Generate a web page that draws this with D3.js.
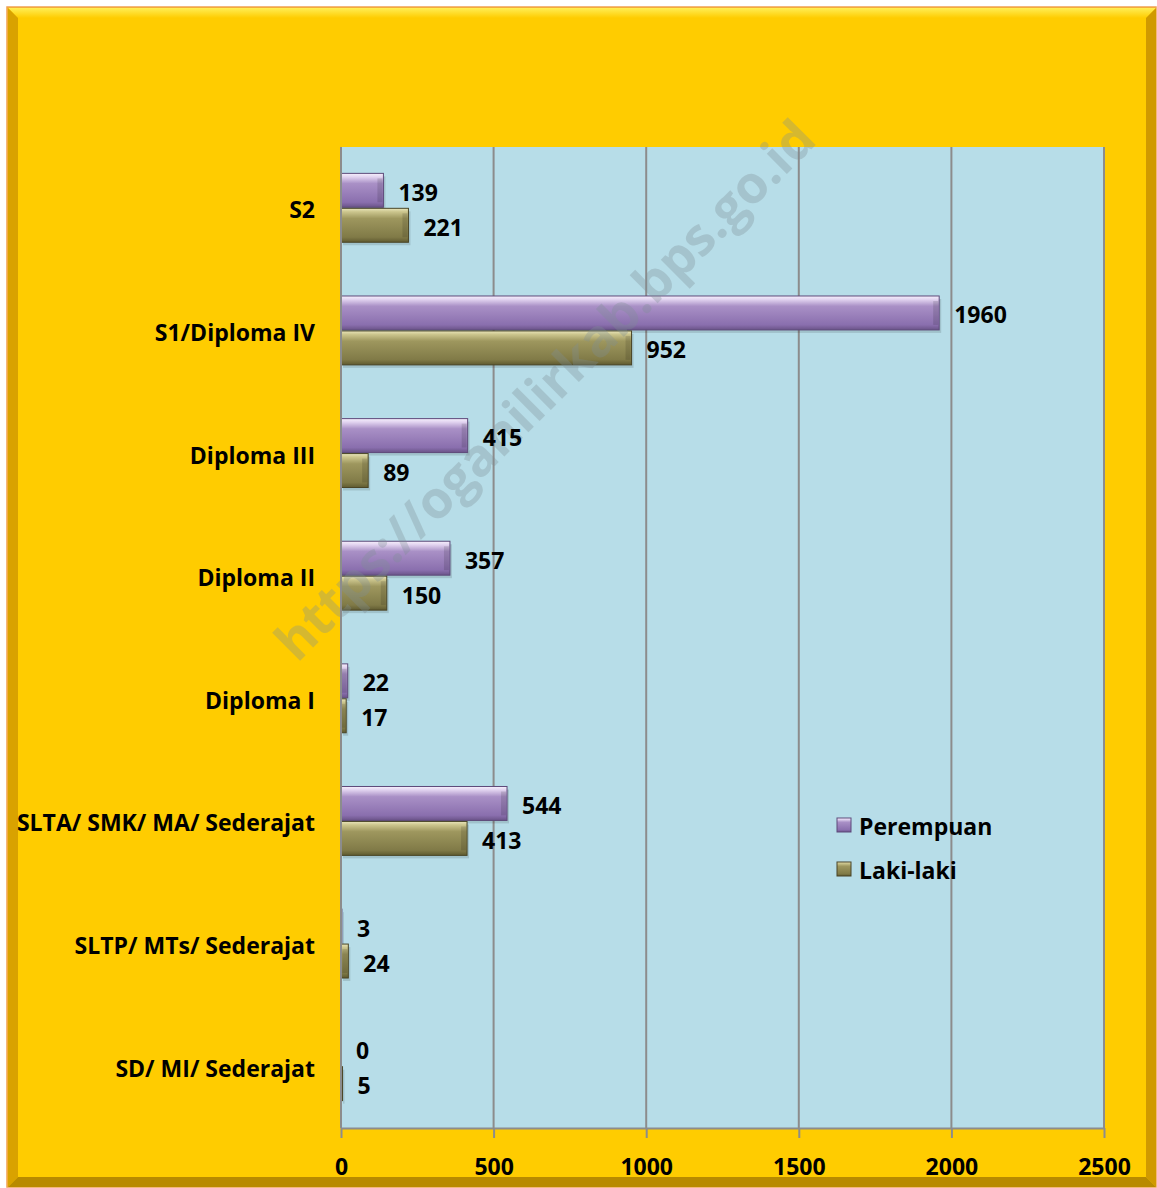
<!DOCTYPE html>
<html><head><meta charset="utf-8">
<script src="https://cdn.jsdelivr.net/npm/d3@7"></script>
<style>body{margin:0;background:#fff}svg{display:block}</style>
</head><body>
<script>
const categories = ["S2","S1/Diploma IV","Diploma III","Diploma II","Diploma I","SLTA/ SMK/ MA/ Sederajat","SLTP/ MTs/ Sederajat","SD/ MI/ Sederajat"];
const perempuan = [139,1960,415,357,22,544,3,0];
const lakilaki = [221,952,89,150,17,413,24,5];
const seriesNames = ["Perempuan","Laki-laki"];
const xTicks = [0,500,1000,1500,2000,2500];

const FONT="'Open Sans', sans-serif";
const FS=23;
const W=1157,H=1188;
const svg=d3.select("body").append("svg").attr("width",W).attr("height",H);
const defs=svg.append("defs");
function grad(id,stops){const g=defs.append("linearGradient").attr("id",id).attr("x1",0).attr("y1",0).attr("x2",0).attr("y2",1);stops.forEach(s=>g.append("stop").attr("offset",s[0]).attr("stop-color",s[1]));}
grad("gP",[[0,"#f6f0fc"],[0.1,"#e2d4f0"],[0.3,"#a990c6"],[0.85,"#8a6fae"],[1,"#6a5388"]]);
grad("gL",[[0,"#eae6bc"],[0.1,"#ccc68e"],[0.3,"#9e975e"],[0.85,"#807a47"],[1,"#5f5a30"]]);
grad("frameTop",[[0,"#ffee55"],[1,"#ffcc00"]]);

// frame
svg.append("rect").attr("x",7).attr("y",7).attr("width",1149).attr("height",1180).attr("fill","#ffcc00").attr("stroke","#f0a050").attr("stroke-width",1.5);
svg.append("polygon").attr("points","8,8 1156,8 1146,18 18,18").attr("fill","url(#frameTop)");
svg.append("polygon").attr("points","8,8 18,18 18,1177 8,1187").attr("fill","#d9a200");
svg.append("polygon").attr("points","1156,8 1156,1187 1146,1177 1146,18").attr("fill","#d09a00");
svg.append("polygon").attr("points","8,1187 1156,1187 1146,1177 18,1177").attr("fill","#b88a00");
svg.append("rect").attr("x",18).attr("y",18).attr("width",1128).attr("height",1159).attr("fill","#ffcc00");

const m={l:341,r:1104,t:147,b:1128};
const x=d3.scaleLinear().domain([0,2500]).range([m.l,m.r]);
const y=d3.scaleBand().domain(categories).range([m.t,m.b]).paddingInner(0.43).paddingOuter(0.215);
const ys=d3.scaleBand().domain(seriesNames).range([0,y.bandwidth()]);

svg.append("rect").attr("x",m.l).attr("y",m.t).attr("width",m.r-m.l).attr("height",m.b-m.t).attr("fill","#b7dde8");

// gridlines
svg.append("g").selectAll("line").data(xTicks.slice(1)).join("line")
 .attr("x1",d=>x(d)).attr("x2",d=>x(d)).attr("y1",m.t).attr("y2",m.b).attr("stroke","#8c8c8c").attr("stroke-width",2);

// bars
const data=[];
categories.forEach((c,i)=>{data.push({c,s:"Perempuan",v:perempuan[i]});data.push({c,s:"Laki-laki",v:lakilaki[i]});});
const bars=svg.append("g");
bars.selectAll("rect.shadow").data(data).join("rect").attr("x",x(0)+2).attr("y",d=>y(d.c)+ys(d.s)+3)
 .attr("width",d=>Math.max(0,x(d.v)-x(0))).attr("height",ys.bandwidth()-1).attr("fill","#000").attr("opacity",0.12);
bars.selectAll("rect.bar").data(data).join("rect").attr("x",x(0)).attr("y",d=>y(d.c)+ys(d.s))
 .attr("width",d=>x(d.v)-x(0)).attr("height",ys.bandwidth()-1)
 .attr("fill",d=>d.s==="Perempuan"?"url(#gP)":"url(#gL)")
 .attr("stroke",d=>d.s==="Perempuan"?"#5e4a7a":"#4a4526").attr("stroke-width",d=>d.v>0?1:0);
bars.selectAll("rect.edge").data(data.filter(d=>d.v>8)).join("rect")
 .attr("x",d=>x(d.v)-6).attr("y",d=>y(d.c)+ys(d.s)+5).attr("width",5).attr("height",ys.bandwidth()-11)
 .attr("fill","#000").attr("opacity",0.12);

// watermark (on top of bars)
svg.append("text").attr("transform","translate(548,393) rotate(-45)").attr("text-anchor","middle").attr("dominant-baseline","middle")
 .attr("font-family",FONT).attr("font-weight","bold").attr("font-size",52).attr("fill","#7f8f95").attr("opacity",0.32).text("https://oganilirkab.bps.go.id");

// value labels
svg.append("g").selectAll("text").data(data).join("text")
 .attr("x",d=>x(d.v)+15).attr("y",d=>y(d.c)+ys(d.s)+ys.bandwidth()/2+1).attr("dominant-baseline","central")
 .attr("font-family",FONT).attr("font-weight","bold").attr("font-size",FS).attr("fill","#000").text(d=>d.v);

// y axis line and labels
svg.append("line").attr("x1",m.l).attr("x2",m.l).attr("y1",m.t).attr("y2",m.b).attr("stroke","#8c8c8c").attr("stroke-width",2);
svg.append("g").selectAll("text").data(categories).join("text")
 .attr("x",315).attr("y",d=>y(d)+y.bandwidth()/2+1).attr("text-anchor","end").attr("dominant-baseline","central")
 .attr("font-family",FONT).attr("font-weight","bold").attr("font-size",FS).attr("fill","#000").text(d=>d);

// x axis
const xa=svg.append("g").attr("transform",`translate(0,${m.b})`).call(d3.axisBottom(x).tickValues(xTicks).tickFormat(d3.format("d")).tickSize(10).tickPadding(21).tickSizeOuter(0));
xa.select(".domain").attr("stroke","#8c8c8c").attr("stroke-width",2);
xa.selectAll(".tick line").attr("stroke","#8c8c8c").attr("stroke-width",2);
xa.selectAll("text").attr("font-family",FONT).attr("font-weight","bold").attr("font-size",FS).attr("fill","#000");

// legend
const lg=svg.append("g");
seriesNames.forEach((s,i)=>{
 const yy=825+i*44;
 lg.append("rect").attr("x",837).attr("y",yy-7).attr("width",14).attr("height",14).attr("fill",i===0?"url(#gP)":"url(#gL)").attr("stroke",i===0?"#5e4a7a":"#4a4526");
 lg.append("text").attr("x",859).attr("y",yy+1).attr("dominant-baseline","central").attr("font-family",FONT).attr("font-weight","bold").attr("font-size",FS).text(s);
});
</script>
</body></html>
